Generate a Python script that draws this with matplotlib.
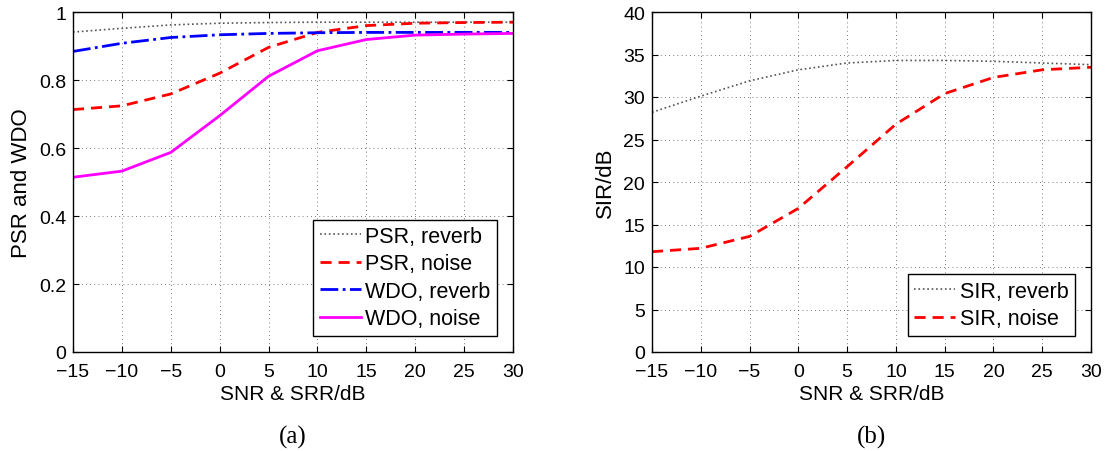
import numpy as np
import matplotlib.pyplot as plt

snr = [-15, -10, -5, 0, 5, 10, 15, 20, 25, 30]

psr_reverb = [0.941, 0.952, 0.962, 0.967, 0.969, 0.970, 0.970, 0.970, 0.970, 0.970]
psr_noise = [0.713, 0.724, 0.759, 0.820, 0.896, 0.940, 0.960, 0.967, 0.969, 0.970]
wdo_reverb = [0.884, 0.908, 0.925, 0.933, 0.937, 0.939, 0.940, 0.940, 0.940, 0.940]
wdo_noise = [0.514, 0.532, 0.587, 0.695, 0.811, 0.886, 0.919, 0.932, 0.935, 0.937]

sir_reverb = [28.2, 30.1, 31.9, 33.2, 34.0, 34.3, 34.3, 34.2, 34.0, 33.8]
sir_noise = [11.8, 12.2, 13.6, 16.9, 21.8, 26.8, 30.4, 32.3, 33.2, 33.5]

plt.rcParams['font.family'] = ['Liberation Sans', 'DejaVu Sans']
plt.rcParams['font.size'] = 14

fig = plt.figure(figsize=(11.16, 4.52), dpi=100)
ax1 = fig.add_axes([73 / 1116, 99 / 452, 440 / 1116, 340 / 452])
ax2 = fig.add_axes([652 / 1116, 99 / 452, 439 / 1116, 340 / 452])


def style(ax):
    ax.set_xlim(-15, 30)
    ax.set_xticks(np.arange(-15, 31, 5))
    ax.grid(True, color='black', linestyle=(0, (1, 4)), linewidth=0.6, alpha=0.7)
    ax.tick_params(direction='in', top=True, right=True, length=4, labelsize=14)
    ax.tick_params(axis='x', pad=8)
    ax.tick_params(axis='y', pad=5)
    for s in ax.spines.values():
        s.set_linewidth(1.0)
    ax.set_xlabel('SNR & SRR/dB', fontsize=15, labelpad=3)


def legend(ax):
    leg = ax.legend(loc='lower right', fancybox=False, edgecolor='black', framealpha=1,
                    fontsize=15.5, handlelength=1.9, handletextpad=0.2, borderpad=0.3,
                    borderaxespad=0.75, labelspacing=0.3)
    leg.get_frame().set_linewidth(1.0)


ax1.plot(snr, psr_reverb, color='#555555', linestyle=':', linewidth=1.2, label='PSR, reverb')
ax1.plot(snr, psr_noise, color='#ff0000', linestyle='--', linewidth=2, dashes=(4, 2.5), label='PSR, noise')
ax1.plot(snr, wdo_reverb, color='#0000ff', linestyle='-.', linewidth=2, label='WDO, reverb')
ax1.plot(snr, wdo_noise, color='#ff00ff', linestyle='-', linewidth=2, label='WDO, noise')
style(ax1)
ax1.set_ylim(0, 1)
ax1.set_yticks(np.arange(0, 1.01, 0.2))
ax1.set_yticklabels(['0', '0.2', '0.4', '0.6', '0.8', '1'])
ax1.set_ylabel('PSR and WDO', fontsize=16, labelpad=5)
legend(ax1)

ax2.plot(snr, sir_reverb, color='#555555', linestyle=':', linewidth=1.2, label='SIR, reverb')
ax2.plot(snr, sir_noise, color='#ff0000', linestyle='--', linewidth=2, dashes=(4, 2.5), label='SIR, noise')
style(ax2)
ax2.set_ylim(0, 40)
ax2.set_yticks(np.arange(0, 41, 5))
ax2.set_ylabel('SIR/dB', fontsize=16, labelpad=5)
legend(ax2)

fig.text(293 / 1116, 1 - 437 / 452, '(a)', ha='center', va='center',
         family=['Liberation Serif'], fontsize=18)
fig.text(871 / 1116, 1 - 437 / 452, '(b)', ha='center', va='center',
         family=['Liberation Serif'], fontsize=18)

fig.savefig('out.png', dpi=100)
